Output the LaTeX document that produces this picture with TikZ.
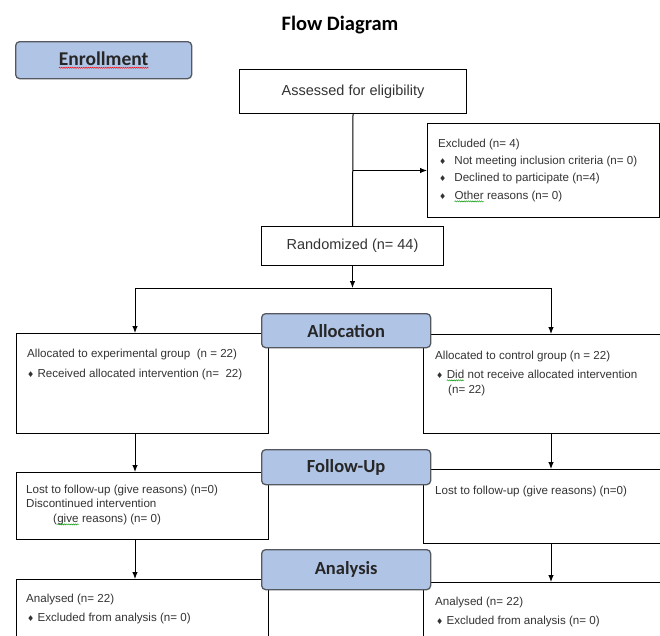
\documentclass[tikz,border=0pt]{standalone}
\usepackage{fontspec}
\setmainfont{Liberation Sans}
\newfontfamily\headfont{Carlito}
\newfontfamily\symfont{DejaVu Sans}
\usetikzlibrary{arrows.meta,decorations.pathmorphing}
\definecolor{phasefill}{HTML}{B0C4E6}
\definecolor{phaseline}{HTML}{55595F}
\tikzset{
  plain/.style={draw=none, fill=none, minimum width=0pt, minimum height=0pt,
    inner sep=0pt, outer sep=0pt, sharp corners, anchor=center},
}
\newcommand\wavy[2]{\tikz[baseline=(wv.base)]{\node[plain] (wv) {#2};
  \draw[#1, line width=0.45pt, sharp corners, decorate, decoration={snake, amplitude=0.6pt, segment length=2.2pt}]
  ([yshift=-2.4pt]wv.base west) -- ([yshift=-2.4pt]wv.base east);}}
\newcommand\dia{{\symfont\fontsize{8}{8}\selectfont\char"2666}}
\tikzset{
  box/.style={draw, line width=1pt, anchor=north west, inner sep=0pt},
  phase/.style={draw=phaseline, fill=phasefill, rounded corners=4pt, line width=1.3pt,
    anchor=north west, minimum width=169, minimum height=34,
    font=\headfont\bfseries\fontsize{18.5}{20}\selectfont, text=black!85},
  txt/.style={anchor=base west, inner sep=0pt, font=\fontsize{11.6}{14}\selectfont, text=black!80},
  big/.style={font=\fontsize{14.5}{17}\selectfont, text=black!80},
  arr/.style={-{Latex[length=7pt,width=5.5pt]}, line width=1pt},
}
\begin{document}
\begin{tikzpicture}[x=1pt,y=-1pt]
\useasboundingbox (0,0) rectangle (660,635);
\clip (0,0) rectangle (660,635);
% title
\node (title) at (340,25) {\headfont\bfseries\fontsize{20.5}{22}\selectfont Flow Diagram};
% enrollment
\node[phase, minimum width=176, minimum height=37, font=\headfont\bfseries\fontsize{19.5}{21}\selectfont] (enrol) at (15,41) {\wavy{red}{Enrollment}};
\node[box, minimum width=227, minimum height=44] (assess) at (239,69) {};
\node[big] (assesstxt) at (assess.center) {Assessed for eligibility};
\node[box, minimum width=232, minimum height=94] (excl) at (427,123) {};
\node[txt] (ex0) at ([shift={(11,24)}]excl.north west) {Excluded (n= 4)};
\node[txt] (ex1) at ([shift={(12,41)}]excl.north west) {\dia\hspace{8pt}Not meeting inclusion criteria (n= 0)};
\node[txt] (ex2) at ([shift={(12,58)}]excl.north west) {\dia\hspace{8pt}Declined to participate (n=4)};
\node[txt] (ex3) at ([shift={(12,76)}]excl.north west) {\dia\hspace{8pt}\wavy{green!60!black}{Other} reasons (n= 0)};
\node[box, minimum width=182, minimum height=39] (rand) at (261,226) {};
\node[big] (randtxt) at (rand.center) {Randomized (n= 44)};
% allocation
\node[box, minimum width=252, minimum height=100] (lalloc) at (16,333) {};
\node[box, minimum width=250, minimum height=99] (ralloc) at (423,334) {};
\node[txt] (la1) at ([shift={(11,24)}]lalloc.north west) {Allocated to experimental group\ \ (n = 22)};
\node[txt] (la2) at ([shift={(11,44)}]lalloc.north west) {\dia\ Received allocated intervention (n=\ \ 22)};
\node[txt] (ra1) at ([shift={(12,25)}]ralloc.north west) {Allocated to control group (n = 22)};
\node[txt] (ra2) at ([shift={(13,44)}]ralloc.north west) {\dia\ \wavy{green!60!black}{Did} not receive allocated intervention};
\node[txt] (ra3) at ([shift={(25,59)}]ralloc.north west) {(n= 22)};
% follow-up
\node[box, minimum width=252, minimum height=67] (lfu) at (16,472) {};
\node[box, minimum width=250, minimum height=74] (rfu) at (423,469) {};
\node[txt] (lf1) at ([shift={(10,21)}]lfu.north west) {Lost to follow-up (give reasons) (n=0)};
\node[txt] (lf2) at ([shift={(10,35)}]lfu.north west) {Discontinued intervention};
\node[txt] (lf3) at ([shift={(37,50)}]lfu.north west) {(\wavy{green!60!black}{give} reasons) (n= 0)};
\node[txt] (rf1) at ([shift={(12,25)}]rfu.north west) {Lost to follow-up (give reasons) (n=0)};
% analysis
\node[box, minimum width=252, minimum height=70] (lan) at (16,579) {};
\node[box, minimum width=250, minimum height=70] (ran) at (423,582) {};
\node[txt] (ln1) at ([shift={(10,23)}]lan.north west) {Analysed (n= 22)};
\node[txt] (ln2) at ([shift={(11,42)}]lan.north west) {\dia\ Excluded from analysis (n= 0)};
\node[txt] (rn1) at ([shift={(12,23)}]ran.north west) {Analysed (n= 22)};
\node[txt] (rn2) at ([shift={(13,42)}]ran.north west) {\dia\ Excluded from analysis (n= 0)};
% phase labels on top
\node[phase] (alloc) at (261,313) {Allocation};
\node[phase, minimum height=35] (follow) at (261,449) {Follow-Up};
\node[phase, minimum height=40] (analysis) at (261,549) {Analysis};
% connectors
\coordinate (lcol) at (135,288);
\coordinate (rcol) at (551,288);
\draw[line width=1pt] (assess.south) -- (rand.north);
\draw[arr] (assess.south |- excl.west) -- (excl.west);
\draw[arr] (rand.south) -- (rand.south |- lcol);
\draw[line width=1pt] (lcol) -- (rcol);
\draw[arr] (lcol) -- (lcol |- lalloc.north);
\draw[arr] (rcol) -- (rcol |- ralloc.north);
\draw[arr] (lcol |- lalloc.south) -- (lcol |- lfu.north);
\draw[arr] (rcol |- ralloc.south) -- (rcol |- rfu.north);
\draw[arr] (lcol |- lfu.south) -- (lcol |- lan.north);
\draw[arr] (rcol |- rfu.south) -- (rcol |- ran.north);
\end{tikzpicture}
\end{document}
